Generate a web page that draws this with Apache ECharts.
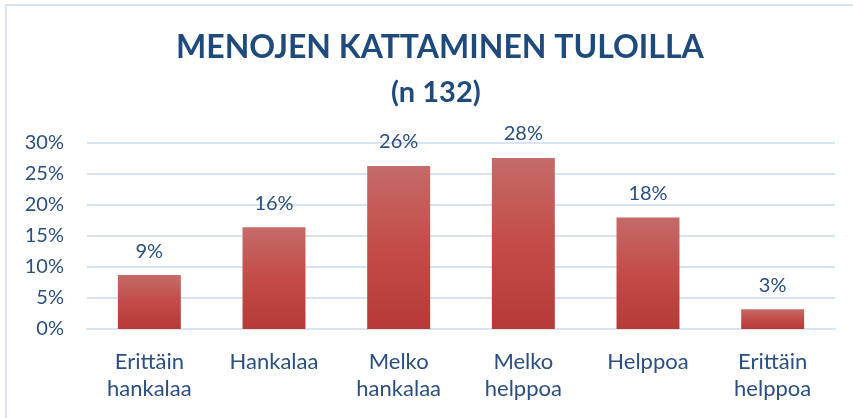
<!DOCTYPE html>
<html>
<head>
<meta charset="utf-8">
<script src="https://cdn.jsdelivr.net/npm/echarts@6/dist/echarts.min.js"></script>
<style>
  html, body { margin: 0; padding: 0; background: #fff; }
  #chart { width: 853px; height: 418px; }
</style>
</head>
<body>
<div id="chart"></div>
<script>
const categories = ['Erittäin\nhankalaa', 'Hankalaa', 'Melko\nhankalaa', 'Melko\nhelppoa', 'Helppoa', 'Erittäin\nhelppoa'];
const shares = [8.7, 16.4, 26.3, 27.6, 18.0, 3.2];
const yTicks = { min: 0, max: 30, step: 5 };

const textBlue = '#2a4f80';
const titleBlue = '#1f4a7c';
const gridBlue = '#d9e4f3';

const chart = echarts.init(document.getElementById('chart'), null, { renderer: 'canvas' });

chart.setOption({
  animation: false,
  backgroundColor: '#fff',
  textStyle: { fontFamily: 'Lato' },
  title: [
    {
      text: 'MENOJEN KATTAMINEN TULOILLA',
      left: 171,
      top: 27,
      textStyle: { color: titleBlue, fontSize: 32, fontWeight: 'bold', fontFamily: 'Lato' }
    },
    {
      text: '(n 132)',
      left: 386,
      top: 73,
      textStyle: { color: titleBlue, fontSize: 29, fontWeight: 'bold', fontFamily: 'Lato' }
    }
  ],
  graphic: [{
    type: 'rect',
    shape: { x: 6, y: 5, width: 900, height: 500 },
    style: { fill: null, stroke: gridBlue, lineWidth: 2 },
    silent: true
  }],
  grid: { left: 87, right: 18, top: 143, bottom: 89, containLabel: false, outerBoundsMode: 'none' },
  xAxis: {
    type: 'category',
    data: categories,
    axisTick: { show: false },
    axisLine: { lineStyle: { color: gridBlue, width: 2 } },
    axisLabel: { color: textBlue, fontSize: 22, lineHeight: 27, margin: 19, interval: 0 }
  },
  yAxis: {
    type: 'value',
    min: yTicks.min,
    max: yTicks.max,
    interval: yTicks.step,
    axisLine: { show: false },
    axisTick: { show: false },
    splitLine: { lineStyle: { color: gridBlue, width: 2 } },
    axisLabel: { color: textBlue, fontSize: 20, margin: 23, formatter: '{value}%' }
  },
  series: [{
    type: 'bar',
    data: shares,
    barWidth: '50.5%',
    itemStyle: {
      color: new echarts.graphic.LinearGradient(0, 0, 0, 1, [
        { offset: 0, color: '#c56b68' },
        { offset: 0.5, color: '#c34c48' },
        { offset: 1, color: '#b63a37' }
      ])
    },
    label: {
      show: true,
      position: 'top',
      distance: 14,
      color: textBlue,
      fontSize: 20,
      formatter: p => Math.round(p.value) + '%'
    }
  }]
});
</script>
</body>
</html>
